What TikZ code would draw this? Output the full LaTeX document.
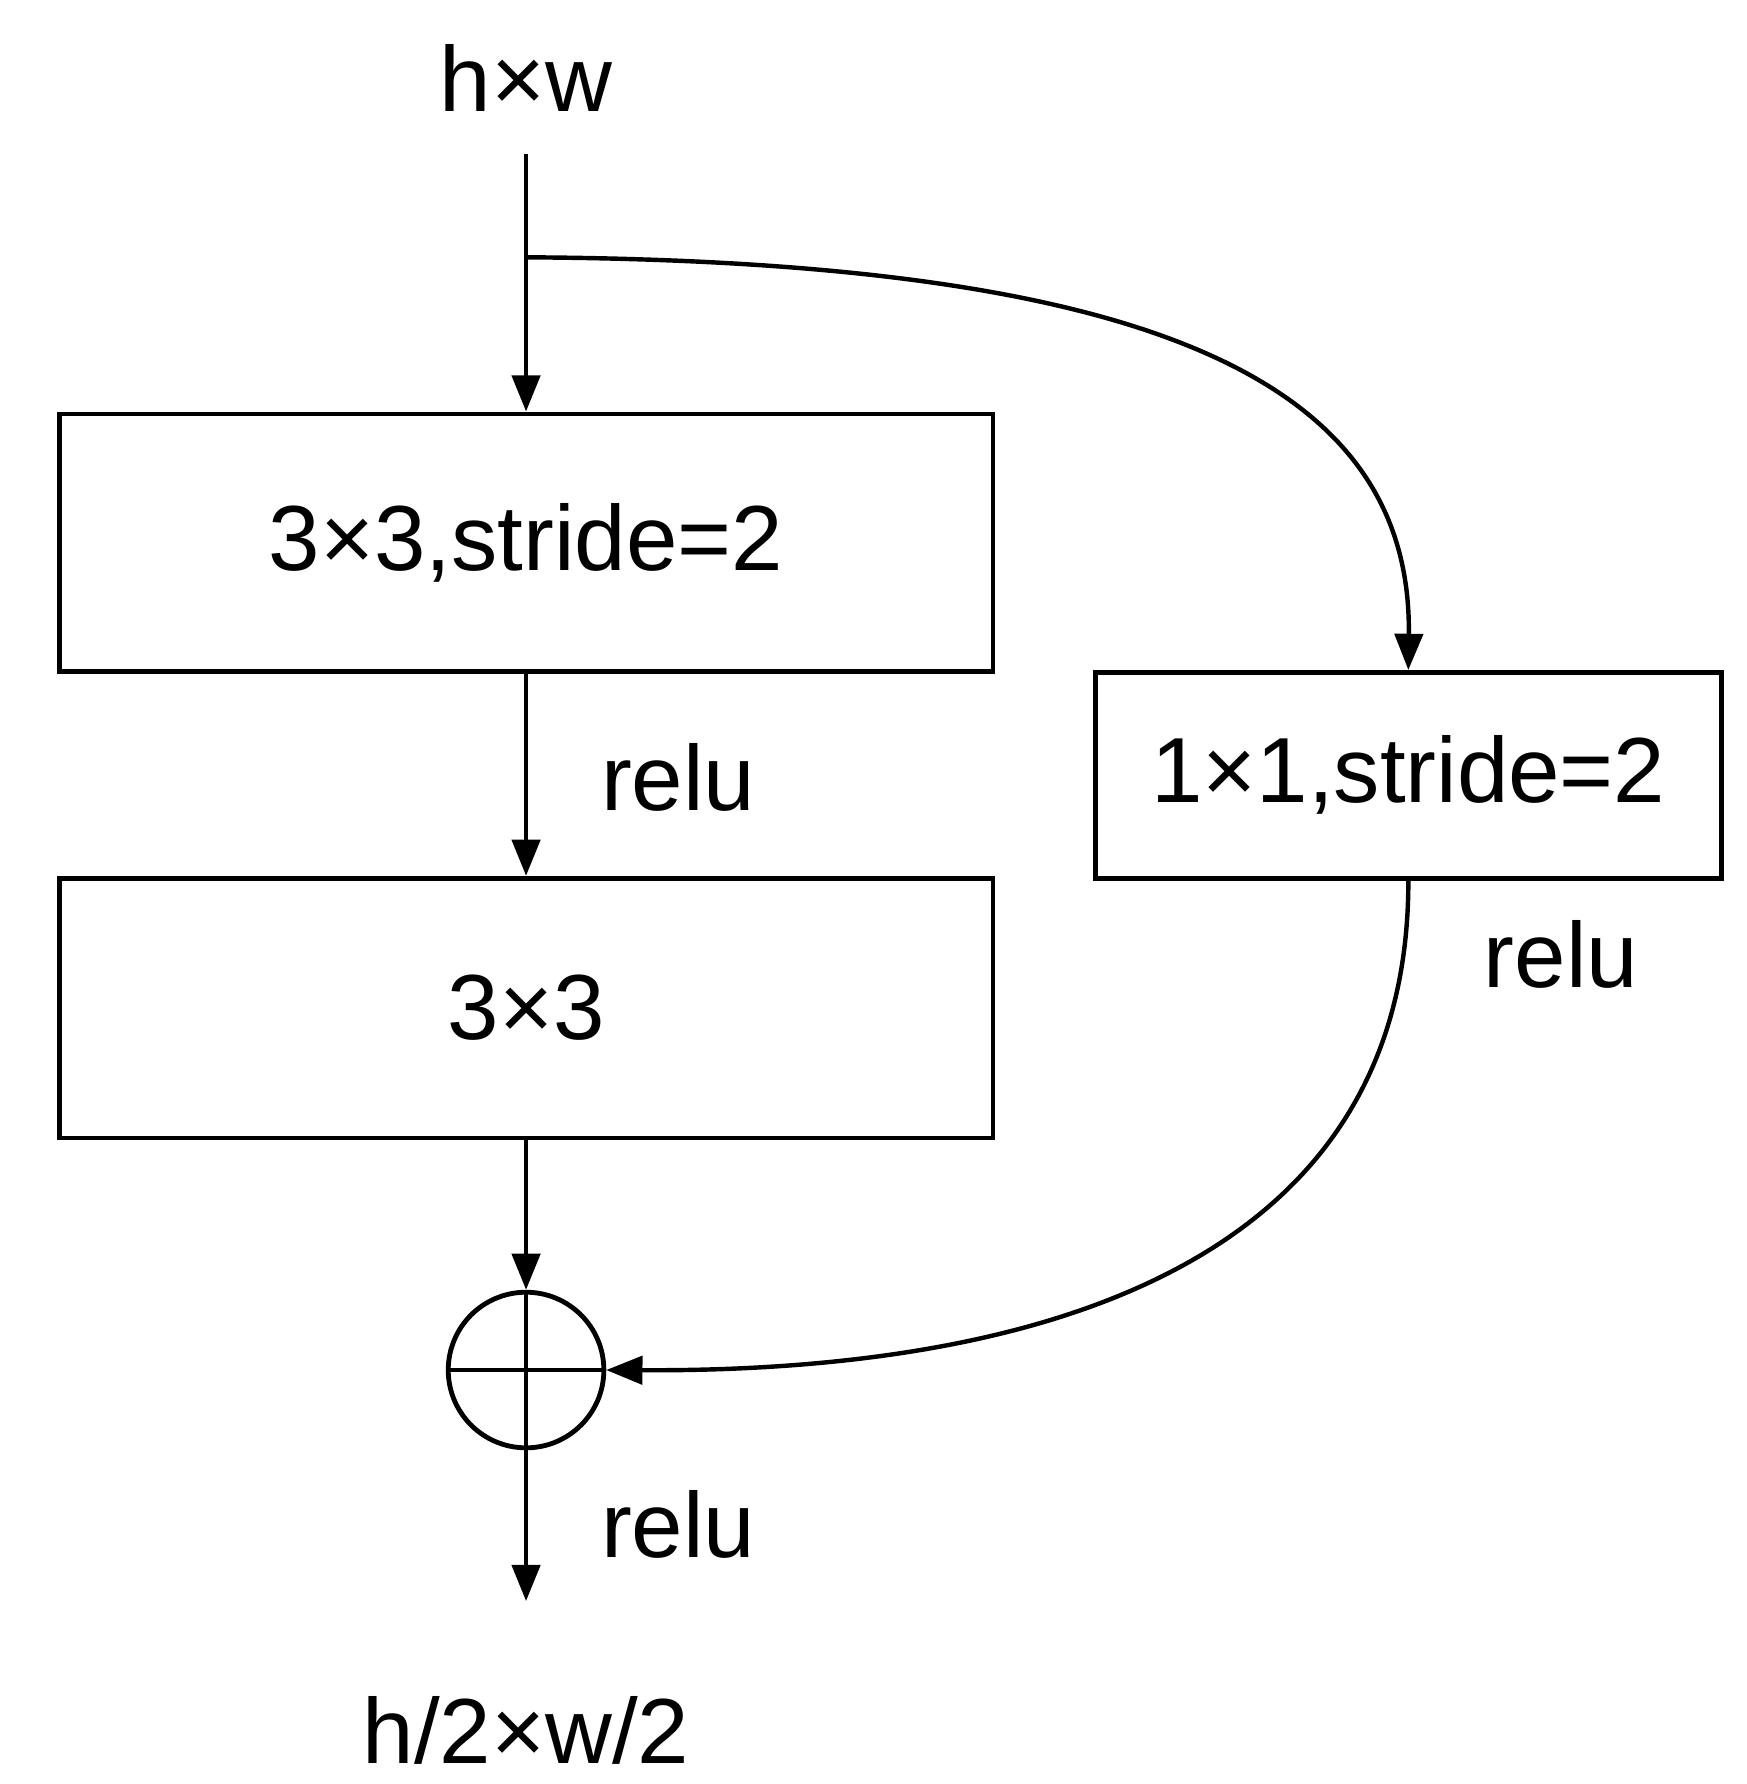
\documentclass[tikz,border=0pt]{standalone}
\usepackage{fontspec}
\setmainfont{Liberation Sans}
\usetikzlibrary{arrows.meta}
\begin{document}
\begin{tikzpicture}[x=0.01cm,y=-0.01cm,
  box/.style={draw,line width=1.2pt,inner sep=0pt,font=\fontsize{23}{27}\selectfont},
  lbl/.style={font=\fontsize{23}{27}\selectfont},
  arr/.style={line width=1.1pt,-{Triangle[length=9pt,width=7pt]}}]
\useasboundingbox (0,0) rectangle (1527,1560);
\node[lbl] (in) at (460,68) {h×w};
\node[box,minimum width=816\pgflinewidth,text width=0pt] at (-100,-100) {};
\node[box,minimum width=8.16cm,minimum height=2.25cm] (b1) at (460,474.5) {3×3,stride=2};
\node[box,minimum width=8.16cm,minimum height=2.27cm] (b3) at (460,881.5) {3×3};
\node[box,minimum width=5.47cm,minimum height=1.80cm] (b2) at (1231.5,678) {1×1,stride=2};
\node[draw,circle,line width=1.2pt,minimum size=1.36cm,inner sep=0pt] (plus) at (460,1198) {};
\draw[line width=1.2pt] (plus.north)--(plus.south) (plus.west)--(plus.east);
\node[lbl] (r1) at (593,680) {relu};
\node[lbl] (r2) at (1365,835) {relu};
\node[lbl] (r3) at (593,1333) {relu};
\node[lbl] (out) at (460,1513) {h/2×w/2};
\coordinate (top) at (460,135);
\coordinate (split) at (460,225);
\coordinate (end) at (460,1400);
\draw[arr] (top) -- (b1.north);
\draw[arr] (split) .. controls (1000,228) and (1235,330) .. (b2.north);
\draw[arr] (b1.south) -- (b3.north);
\draw[arr] (b3.south) -- (plus.north);
\draw[arr] (b2.south) .. controls (1232,1110) and (900,1200) .. (plus.east);
\draw[arr] (plus.south) -- (end);
\end{tikzpicture}
\end{document}
